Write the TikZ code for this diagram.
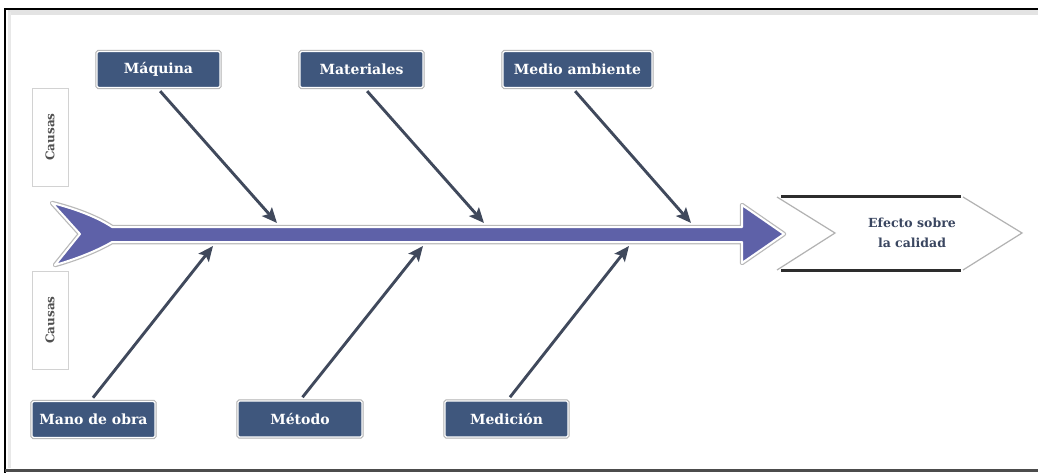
\documentclass[tikz,border=0pt]{standalone}
\usepackage{fontspec}
\setmainfont{DejaVu Serif}
\usetikzlibrary{arrows.meta}
\definecolor{boxblue}{RGB}{63,87,125}
\definecolor{spinefill}{RGB}{94,97,168}
\definecolor{bonecol}{RGB}{64,73,92}
\definecolor{effecttext}{RGB}{58,70,96}
\definecolor{causatext}{RGB}{80,80,80}
\begin{document}
\begin{tikzpicture}[x=1pt,y=-1pt,
  catbox/.style={rectangle, rounded corners=1.5pt, fill=boxblue, draw=white,
    line width=1.3pt, preaction={draw=gray!60, line width=3.2pt},
    minimum height=36pt, inner sep=0pt, text=white,
    font=\bfseries\fontsize{14}{16}\selectfont},
  causabox/.style={rectangle, fill=white, draw=gray!35, line width=0.8pt,
    minimum width=98pt, minimum height=36pt, inner sep=0pt, rotate=90,
    text=causatext, font=\bfseries\fontsize{12}{14}\selectfont},
  bone/.style={draw=bonecol, line width=2.9pt,
    -{Stealth[length=15pt,width=13pt,inset=3pt]}, shorten <=4pt},
  spinestyle/.style={fill=spinefill, draw=white, line width=2pt, line join=round,
    preaction={draw=gray!55, line width=4.5pt, line join=round}},
]
\useasboundingbox (0,0) rectangle (1038,473);
\fill[white] (0,0) rectangle (1038,473);

% frame
\draw[gray!22, line width=5pt] (8,12.5) -- (1038,12.5);
\draw[gray!18, line width=3pt] (9.5,12) -- (9.5,468);
\draw[black, line width=2pt] (5,473) -- (5,9) -- (1038,9);
\draw[gray!60!black, line width=3pt] (5,470.5) -- (1038,470.5);

% spine with tail and head
\path[spinestyle]
  (52,203) .. controls (80,210) and (100,219) .. (112,227) -- (742,227)
  -- (742,205) -- (784,234) -- (742,263) -- (742,242) -- (112,242)
  .. controls (100,249) and (80,258) .. (55,265) -- (80,234) -- cycle;

% effect chevron
\fill[white] (777,197) -- (963,197) -- (1022,233) -- (963,270) -- (777,270) -- (835,233) -- cycle;
\draw[gray!60, line width=1.2pt] (777,197) -- (835,233) -- (777,270);
\draw[gray!60, line width=1.2pt] (963,197) -- (1022,233) -- (963,270);
\draw[gray!35!black, line width=3pt] (781,197) -- (961,197);
\draw[gray!35!black, line width=3pt] (781,270) -- (961,270);
\node[font=\bfseries\fontsize{12.5}{20}\selectfont, text=effecttext, align=center]
  (efecto) at (912,233) {Efecto sobre\\la calidad};

% side labels
\node[causabox] (causas1) at (50,137) {Causas};
\node[causabox] (causas2) at (50,320) {Causas};

% category boxes
\node[catbox, minimum width=123pt] (maquina)    at (158.5,69.5) {Máquina};
\node[catbox, minimum width=123pt] (materiales) at (361.5,69.5) {Materiales};
\node[catbox, minimum width=149pt] (medio)      at (577.5,69.5) {Medio ambiente};
\node[catbox, minimum width=123pt] (mano)       at (93.5,419.5) {Mano de obra};
\node[catbox, minimum width=124pt] (metodo)     at (300,419) {Método};
\node[catbox, minimum width=123pt] (medicion)   at (506.5,419) {Medición};

% bone end points on the spine
\coordinate (e1) at (277,223);
\coordinate (e2) at (484,223);
\coordinate (e3) at (691,223);
\coordinate (e4) at (213,246);
\coordinate (e5) at (423,246);
\coordinate (e6) at (629,246);

% bones
\draw[bone] ([xshift=-1pt]maquina.south) -- (e1);
\draw[bone] ([xshift=3pt]materiales.south) -- (e2);
\draw[bone] ([xshift=-5pt]medio.south) -- (e3);
\draw[bone] ([xshift=-3pt]mano.north) -- (e4);
\draw[bone] (metodo.north) -- (e5);
\draw[bone] ([xshift=1pt]medicion.north) -- (e6);
\end{tikzpicture}
\end{document}
